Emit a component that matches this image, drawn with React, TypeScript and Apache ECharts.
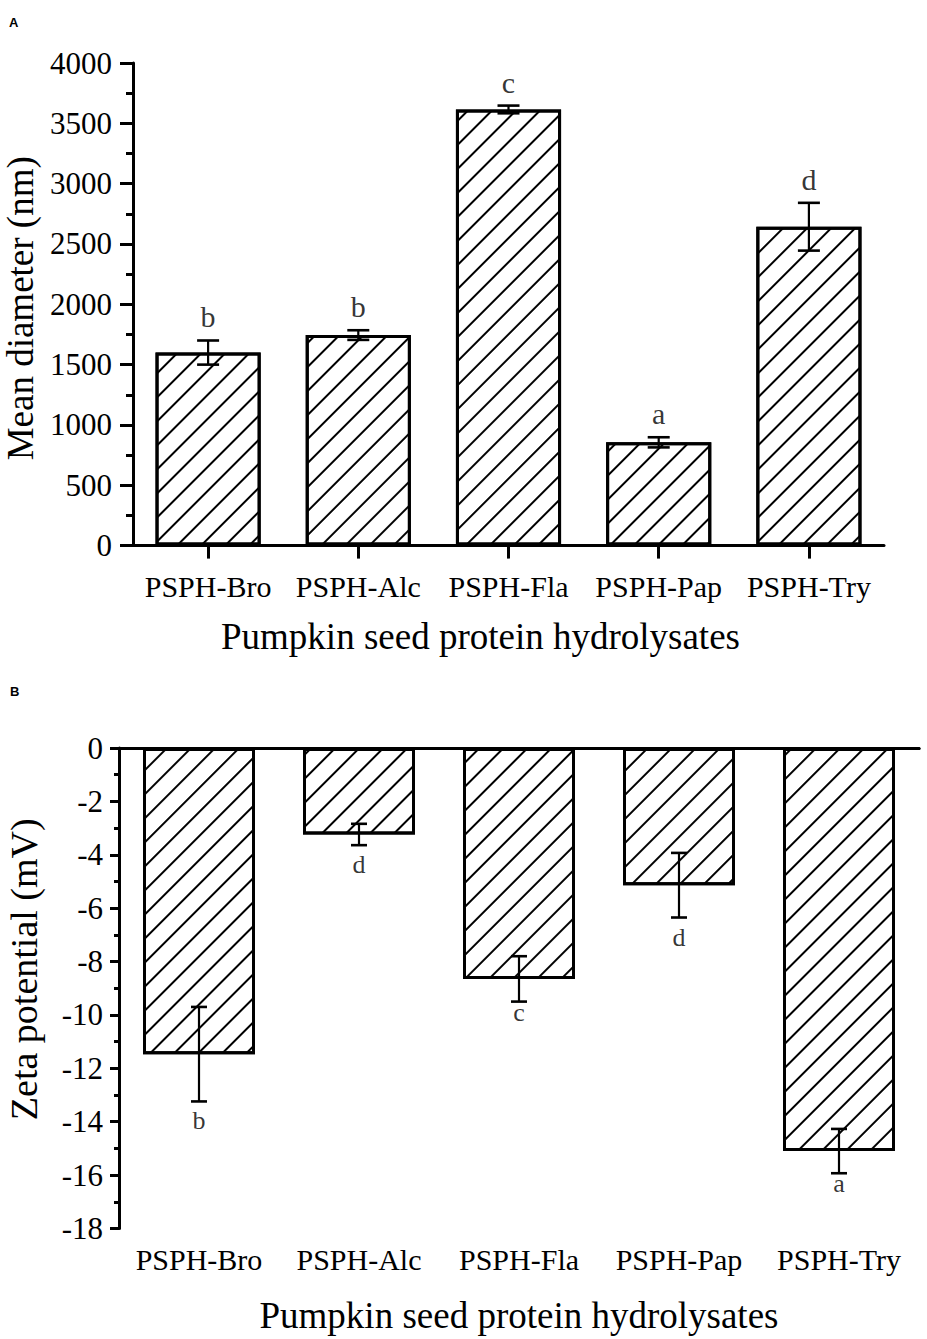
import React, { useEffect, useRef } from "react";
import * as echarts from "echarts";

const categories = ["PSPH-Bro", "PSPH-Alc", "PSPH-Fla", "PSPH-Pap", "PSPH-Try"];

const diameterMean = [1600, 1745, 3615, 856, 2643];
const diameterSd = [100, 40, 32, 42, 198];
const diameterLetters = ["b", "b", "c", "a", "d"];
const diameterAxis = { min: 0, max: 4000, interval: 500 };

const zetaMean = [-11.47, -3.24, -8.65, -5.14, -15.1];
const zetaSd = [1.77, 0.4, 0.85, 1.21, 0.83];
const zetaLetters = ["b", "d", "c", "d", "a"];
const zetaAxis = { min: -18, max: 0, interval: 2 };

const xTitle = "Pumpkin seed protein hydrolysates";
const yTitleA = "Mean diameter (nm)";
const yTitleB = "Zeta potential (mV)";

const SERIF = '"Liberation Serif", "Times New Roman", Times, serif';
const SANS = '"Liberation Sans", Arial, sans-serif';

const hatch = {
  symbol: "rect",
  symbolSize: 1,
  symbolKeepAspect: false,
  color: "#000",
  backgroundColor: "#fff",
  dashArrayX: [1, 0],
  dashArrayY: [1.6, 14.4],
  rotation: -Math.PI / 4,
};

function errorSeries(idx: number, mean: number[], sd: number[], capHalf: number) {
  return {
    type: "custom",
    xAxisIndex: idx,
    yAxisIndex: idx,
    z: 5,
    encode: { x: 0, y: 1 },
    data: mean.map((m, i) => [i, m, sd[i]]),
    renderItem: (params: any, api: any) => {
      const x = api.value(0);
      const m = api.value(1);
      const s = api.value(2);
      const hi = api.coord([x, m + s]);
      const lo = api.coord([x, m - s]);
      const cx = hi[0];
      return {
        type: "group",
        children: [
          { type: "line", shape: { x1: cx, y1: hi[1], x2: cx, y2: lo[1] }, style: { stroke: "#000", lineWidth: 2.2 } },
          { type: "line", shape: { x1: cx - capHalf, y1: hi[1], x2: cx + capHalf, y2: hi[1] }, style: { stroke: "#000", lineWidth: 2.6 } },
          { type: "line", shape: { x1: cx - capHalf, y1: lo[1], x2: cx + capHalf, y2: lo[1] }, style: { stroke: "#000", lineWidth: 2.6 } },
        ],
      };
    },
  };
}

export default function App() {
  const ref = useRef<HTMLDivElement>(null);
  useEffect(() => {
    if (!ref.current) return;
    const chart = echarts.init(ref.current, null, { renderer: "svg" });
    const axisLine = { show: true, lineStyle: { color: "#000", width: 3 } };
    const tickStyle = { color: "#000", width: 3 };
    const plain = (v: number) => String(v);
    const option: any = {
      animation: false,
      backgroundColor: "#fff",
      textStyle: { fontFamily: SERIF, color: "#000" },
      graphic: [
        { type: "text", left: 9, top: 16, style: { text: "A", font: `bold 13px ${SANS}`, fill: "#000" } },
        { type: "text", left: 10, top: 685, style: { text: "B", font: `bold 13px ${SANS}`, fill: "#000" } },
      ],
      grid: [
        { left: 133, top: 63, width: 751, height: 482.6, containLabel: false, outerBoundsMode: "none" },
        { left: 119, top: 748, width: 800, height: 480.5, containLabel: false, outerBoundsMode: "none" },
      ],
      xAxis: [
        {
          gridIndex: 0,
          type: "category",
          data: categories,
          axisLine,
          axisTick: { show: true, alignWithLabel: true, length: 13, lineStyle: tickStyle },
          axisLabel: { interval: 0, margin: 26, fontSize: 30, fontFamily: SERIF, color: "#000" },
          splitLine: { show: false },
          name: xTitle,
          nameLocation: "middle",
          nameGap: 72,
          nameTextStyle: { fontSize: 37, fontFamily: SERIF, color: "#000", padding: [0, 56, 0, 0] },
        },
        {
          gridIndex: 1,
          type: "category",
          data: categories,
          axisLine,
          axisTick: { show: true, alignWithLabel: true, length: 9, lineStyle: tickStyle },
          axisLabel: { interval: 0, margin: 16, fontSize: 30, fontFamily: SERIF, color: "#000" },
          splitLine: { show: false },
          name: xTitle,
          nameLocation: "middle",
          nameGap: 68,
          nameTextStyle: { fontSize: 37, fontFamily: SERIF, color: "#000" },
        },
        {
          gridIndex: 1,
          type: "category",
          position: "top",
          data: categories,
          axisLine,
          axisTick: { show: false },
          axisLabel: { show: false },
          splitLine: { show: false },
        },
      ],
      yAxis: [
        {
          gridIndex: 0,
          type: "value",
          ...diameterAxis,
          axisLine,
          axisTick: { show: true, length: 13, lineStyle: tickStyle },
          minorTick: { show: true, splitNumber: 2, length: 7, lineStyle: tickStyle },
          splitLine: { show: false },
          minorSplitLine: { show: false },
          axisLabel: { margin: 21, fontSize: 31, fontFamily: SERIF, color: "#000", formatter: plain },
          name: yTitleA,
          nameLocation: "middle",
          nameGap: 88,
          nameTextStyle: { fontSize: 37, fontFamily: SERIF, color: "#000", padding: [0, 8, 0, 0] },
        },
        {
          gridIndex: 1,
          type: "value",
          ...zetaAxis,
          axisLine,
          axisTick: { show: true, length: 9, lineStyle: tickStyle },
          minorTick: { show: true, splitNumber: 2, length: 5, lineStyle: tickStyle },
          splitLine: { show: false },
          minorSplitLine: { show: false },
          axisLabel: { margin: 16, fontSize: 31, fontFamily: SERIF, color: "#000", formatter: plain },
          name: yTitleB,
          nameLocation: "middle",
          nameGap: 76,
          nameTextStyle: { fontSize: 38, fontFamily: SERIF, color: "#000", padding: [0, 0, 0, 38] },
        },
      ],
      series: [
        {
          type: "bar",
          xAxisIndex: 0,
          yAxisIndex: 0,
          data: diameterMean,
          barWidth: "70%",
          itemStyle: { color: "#fff", borderColor: "#000", borderWidth: 3, decal: hatch },
        },
        errorSeries(0, diameterMean, diameterSd, 11),
        {
          type: "scatter",
          xAxisIndex: 0,
          yAxisIndex: 0,
          symbolSize: 1,
          itemStyle: { color: "rgba(0,0,0,0)" },
          z: 6,
          data: diameterMean.map((m, i) => [i, m + diameterSd[i]]),
          label: {
            show: true,
            position: "top",
            distance: 8,
            fontSize: 30,
            fontFamily: SERIF,
            color: "#000",
            formatter: (p: any) => diameterLetters[p.dataIndex],
          },
        },
        {
          type: "bar",
          xAxisIndex: 1,
          yAxisIndex: 1,
          data: zetaMean,
          barWidth: "70%",
          itemStyle: { color: "#fff", borderColor: "#000", borderWidth: 3, decal: hatch },
        },
        errorSeries(1, zetaMean, zetaSd, 8),
        {
          type: "scatter",
          xAxisIndex: 1,
          yAxisIndex: 1,
          symbolSize: 1,
          itemStyle: { color: "rgba(0,0,0,0)" },
          z: 6,
          data: zetaMean.map((m, i) => ({
            value: [i, m - zetaSd[i]],
            label: { distance: /[bdfhklt]/.test(zetaLetters[i]) ? 6 : -3 },
          })),
          label: {
            show: true,
            position: "bottom",
            fontSize: 26,
            fontFamily: SERIF,
            color: "#000",
            formatter: (p: any) => zetaLetters[p.dataIndex],
          },
        },
      ],
    };
    chart.setOption(option);
    return () => chart.dispose();
  }, []);
  return (
    <div
      ref={ref}
      style={{ position: "absolute", left: 0, top: 0, width: 927, height: 1339, background: "#fff" }}
    />
  );
}
